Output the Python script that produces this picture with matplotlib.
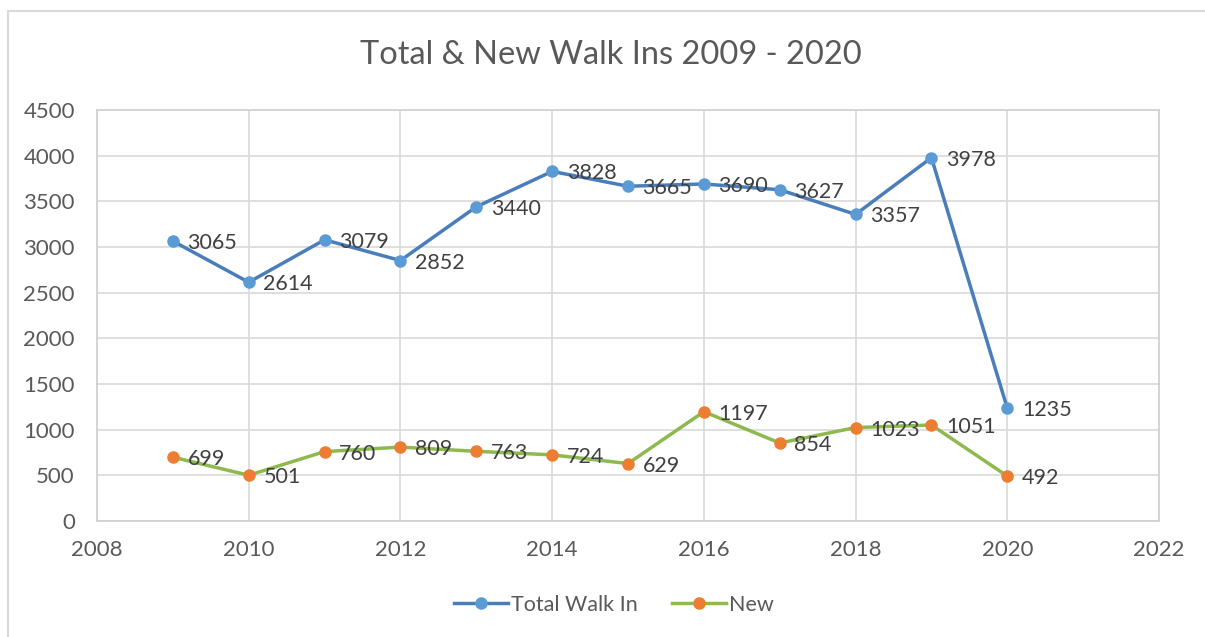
import matplotlib.pyplot as plt
from matplotlib.patches import Rectangle

# Data
years = [2009, 2010, 2011, 2012, 2013, 2014, 2015, 2016, 2017, 2018, 2019, 2020]
total_walk_in = [3065, 2614, 3079, 2852, 3440, 3828, 3665, 3690, 3627, 3357, 3978, 1235]
new_walk_in = [699, 501, 760, 809, 763, 724, 629, 1197, 854, 1023, 1051, 492]
x_ticks = [2008, 2010, 2012, 2014, 2016, 2018, 2020, 2022]
y_ticks = [0, 500, 1000, 1500, 2000, 2500, 3000, 3500, 4000, 4500]

plt.rcParams['font.family'] = ['Lato', 'DejaVu Sans']

fig = plt.figure(figsize=(12.05, 6.37), dpi=100)
ax = fig.add_axes([97 / 1205, 1 - 521 / 637, (1159 - 97) / 1205, (521 - 110) / 637])

# outer chart border
fig.patches.append(Rectangle((8 / 1205, -0.01), 1.02, 1 - 11 / 637 + 0.01,
                             transform=fig.transFigure, fill=False,
                             edgecolor='#D9D9D9', linewidth=1.5))

ax.plot(years, total_walk_in, color='#4A7EBB', linewidth=2.5, marker='o',
        markersize=8, markerfacecolor='#5B9BD5', markeredgecolor='#5B9BD5',
        label='Total Walk In', zorder=3)
ax.plot(years, new_walk_in, color='#8DB94E', linewidth=2.5, marker='o',
        markersize=8, markerfacecolor='#ED7D31', markeredgecolor='#ED7D31',
        label='New', zorder=3)

for x, y in zip(years, total_walk_in):
    ax.annotate(str(y), (x, y), xytext=(10.5, -1.5), textcoords='offset points',
                ha='left', va='center', fontsize=15.5, color='#404040', zorder=4)
for x, y in zip(years, new_walk_in):
    ax.annotate(str(y), (x, y), xytext=(10.5, -1.5), textcoords='offset points',
                ha='left', va='center', fontsize=15.5, color='#404040', zorder=4)

ax.set_xlim(2008, 2022)
ax.set_ylim(0, 4500)
ax.set_xticks(x_ticks)
ax.set_yticks(y_ticks)
ax.tick_params(axis='both', length=0, labelsize=16, labelcolor='#595959')
ax.tick_params(axis='x', pad=14)
ax.tick_params(axis='y', pad=16)
ax.grid(True, color='#D9D9D9', linewidth=1.2)
ax.set_axisbelow(True)
for s in ax.spines.values():
    s.set_color('#D0D0D0')
    s.set_linewidth(1.2)

fig.text(611 / 1205, 1 - 55 / 637, 'Total & New Walk Ins 2009 - 2020',
         ha='center', va='center', fontsize=23.5, color='#595959')

fig.legend(loc='center', bbox_to_anchor=(614 / 1205, 1 - 605 / 637), ncol=2,
           frameon=False, fontsize=15.5, labelcolor='#595959',
           handlelength=2.5, handletextpad=0.15, columnspacing=1.6)

fig.savefig('out.png', dpi=100)
